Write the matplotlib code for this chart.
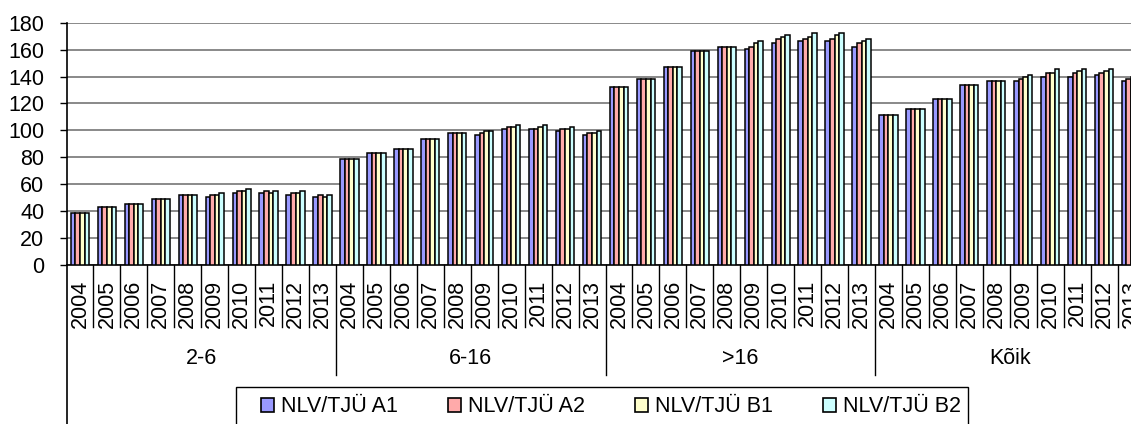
import numpy as np
import matplotlib
matplotlib.use("Agg")
import matplotlib.pyplot as plt
from matplotlib.patches import Patch, Rectangle
from matplotlib.transforms import blended_transform_factory

plt.rcParams['font.family'] = ['Liberation Sans', 'DejaVu Sans']
plt.rcParams['font.size'] = 15.5

# data
GROUPS = ["2-6", "6-16", ">16", "Kõik"]
YEARS = [str(y) for y in range(2004, 2014)]
SERIES = ["NLV/TJÜ A1", "NLV/TJÜ A2", "NLV/TJÜ B1", "NLV/TJÜ B2"]
COLORS = ["#9999FF", "#FFAAAA", "#FFFFCC", "#CCFFFF"]

a1 = [39, 43, 45, 49, 52, 50.5, 53.7, 53.7, 52, 50.5,
      78.7, 83.2, 86.1, 93.8, 98, 96.8, 101, 101, 99.5, 96.8,
      132.2, 138.1, 147, 158.9, 161.9, 160.4, 164.9, 166.3, 166.3, 161.9,
      111.4, 115.8, 123.3, 133.7, 136.6, 136.6, 139.6, 139.6, 141.1, 136.6]
a2 = [39, 43, 45, 49, 52, 52, 55, 55, 53.7, 52,
      78.7, 83.2, 86.1, 93.8, 98, 98, 102.5, 101, 101, 98,
      132.2, 138.1, 147, 158.9, 161.9, 161.9, 167.8, 167.8, 167.8, 164.9,
      111.4, 115.8, 123.3, 133.7, 136.6, 138.1, 142.6, 142.6, 142.6, 138.1]
b1 = [39, 43, 45, 49, 52, 52, 55, 53.7, 53.7, 50.5,
      78.7, 83.2, 86.1, 93.8, 98, 99.5, 102.5, 102.5, 101, 98,
      132.2, 138.1, 147, 158.9, 161.9, 164.9, 169.3, 169.3, 170.8, 166.3,
      111.4, 115.8, 123.3, 133.7, 136.6, 139.6, 142.6, 144, 144, 139.6]
b2 = [39, 43, 45, 49, 52, 53.7, 56.4, 55, 55, 52,
      78.7, 83.2, 86.1, 93.8, 98, 99.5, 104, 104, 102.5, 99.5,
      132.2, 138.1, 147, 158.9, 161.9, 166.3, 170.8, 172.3, 172.3, 167.8,
      111.4, 115.8, 123.3, 133.7, 136.6, 141.1, 145.5, 145.5, 145.5, 141.1]

W, H = 1131, 424
fig = plt.figure(figsize=(W / 100, H / 100), dpi=100)
ax_h = 265 - 22.7
ax = fig.add_axes([66.5 / W, 1 - 265 / H, 40 * 26.95 / W, ax_h / H])

n = len(GROUPS) * len(YEARS)
x = np.arange(n)
bw = 0.17
for k, (vals, col, name) in enumerate(zip([a1, a2, b1, b2], COLORS, SERIES)):
    ax.bar(x + (k - 1.5) * bw, vals, bw, color=col, edgecolor='black',
           linewidth=1.1, label=name, zorder=3)

ax.set_xlim(-0.5, n - 0.5)
ax.set_ylim(0, 180)
ax.set_yticks(range(0, 181, 20))
ax.yaxis.grid(True, color='#808080', linewidth=1.3, zorder=0)
ax.tick_params(axis='y', length=5, width=1, pad=11)
ax.set_xticks([])
for s in ['top', 'right']:
    ax.spines[s].set_visible(False)
ax.spines['left'].set_linewidth(1.2)
ax.spines['bottom'].set_linewidth(1.2)

# multi-level category axis
tr = blended_transform_factory(ax.transData, ax.transAxes)
def frac(px):
    return -px / ax_h

for i in range(n):
    ax.text(i, frac(15), YEARS[i % 10], rotation=90, ha='center', va='top',
            transform=tr, clip_on=False)
    if i > 0 and i % 10 != 0:
        ax.plot([i - 0.5, i - 0.5], [0, frac(62)], color='black', lw=1,
                transform=tr, clip_on=False)
for g, name in enumerate(GROUPS):
    ax.text(g * 10 + 4.5, frac(93), name, ha='center', va='center',
            transform=tr, clip_on=False)
    if g > 0:
        ax.plot([g * 10 - 0.5] * 2, [0, frac(110)], color='black', lw=1,
                transform=tr, clip_on=False)
ax.plot([-0.5, -0.5], [0, frac(165)], color='black', lw=1.2,
        transform=tr, clip_on=False)

# legend box (cut at bottom like the source)
fig.patches.append(Rectangle((236 / W, -0.05), 732 / W, 0.05 + 1 - 387 / H,
                             transform=fig.transFigure, facecolor='white',
                             edgecolor='black', linewidth=1))
handles = [Patch(facecolor=c, edgecolor='black', linewidth=1.2) for c in COLORS]
fig.legend(handles, SERIES, loc='center left', ncol=4, frameon=False,
           bbox_to_anchor=(261 / W, 1 - 407 / H), borderpad=0, borderaxespad=0,
           handlelength=0.6, handleheight=0.6, handletextpad=0.35,
           columnspacing=2.3)

fig.savefig("out.png", dpi=100)
